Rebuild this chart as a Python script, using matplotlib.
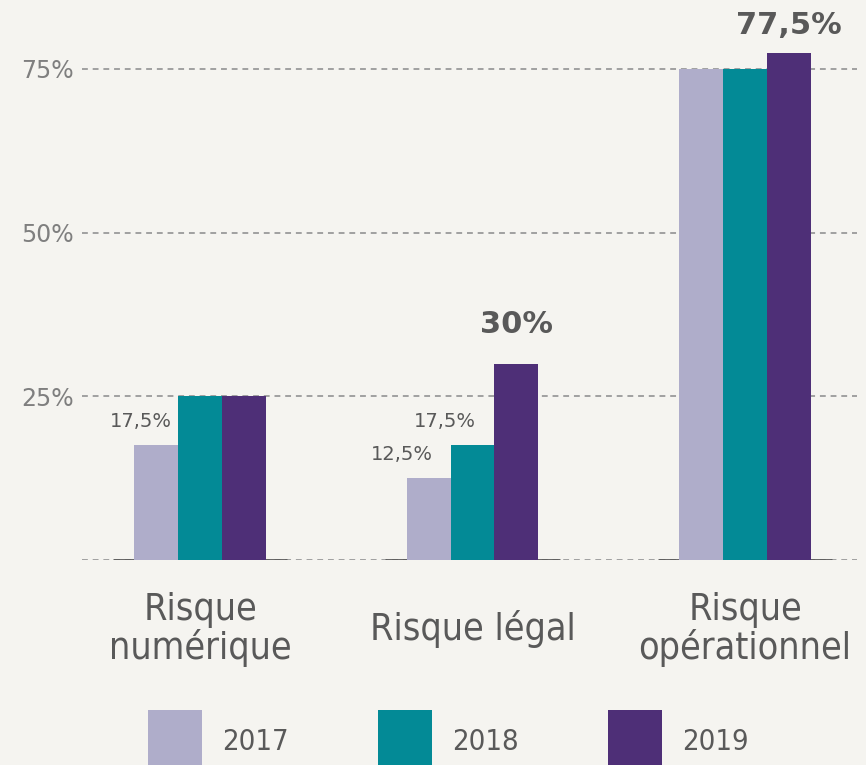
import numpy as np
import matplotlib.pyplot as plt
from matplotlib import font_manager

categories = ['Risque\nnumérique', 'Risque légal', 'Risque\nopérationnel']
years = ['2017', '2018', '2019']
values_2017 = [17.5, 12.5, 75]
values_2018 = [25, 17.5, 75]
values_2019 = [25, 30, 77.5]
colors = ['#afadca', '#038a96', '#4e2f77']

# pick a regular narrow font if one is installed
narrow = None
for f in font_manager.fontManager.ttflist:
    fn = f.fname.split('/')[-1]
    if ('Condensed' in fn or 'Narrow' in fn) and f.style == 'normal' \
            and f.weight in (400, 'normal', 'regular', 'book') \
            and 'Bold' not in fn and 'Oblique' not in fn and 'Italic' not in fn:
        narrow = f.fname
        if 'DejaVuSansCondensed.ttf' in fn:
            break
if narrow is not None:
    cat_prop = font_manager.FontProperties(fname=narrow, size=27)
    leg_prop = font_manager.FontProperties(fname=narrow, size=21)
else:
    cat_prop = font_manager.FontProperties(family='DejaVu Sans', size=25)
    leg_prop = font_manager.FontProperties(family='DejaVu Sans', size=19)

bg = '#f5f4f0'
fig = plt.figure(figsize=(8.66, 7.65), dpi=100, facecolor=bg)
ax = fig.add_axes([0.0947, 0.268, 0.895, 0.6847], facecolor=bg)

x = np.arange(len(categories))
w = 0.161
series = [values_2017, values_2018, values_2019]
for i, (vals, c) in enumerate(zip(series, colors)):
    ax.bar(x + (i - 1) * w, vals, w, color=c, label=years[i], zorder=3)

# grid lines
for yv in [0, 25, 50, 75]:
    ax.axhline(yv, color='#a0a0a0', lw=1.4, ls=(0, (3, 2.5)), zorder=1)
# dark baseline segments under each group
for xc in x:
    ax.plot([xc - 0.32, xc + 0.32], [0, 0], color='#595959', lw=2, zorder=2,
            solid_capstyle='butt')

ax.set_xlim(-0.433, 2.411)
ax.set_ylim(0, 80)
ax.set_yticks([25, 50, 75])
ax.set_yticklabels(['25%', '50%', '75%'], color='#7f7f7f', fontsize=17)
ax.tick_params(axis='y', length=0, pad=6)
ax.set_xticks(x)
ax.set_xticklabels(categories, color='#595959', linespacing=1.05,
                   fontproperties=cat_prop)
for lbl in ax.get_xticklabels():
    lbl.set_va('center')
ax.tick_params(axis='x', length=0, pad=50)
for s in ax.spines.values():
    s.set_visible(False)

# small value labels (series index, category index, x shift)
small = [(0, 0, -0.055), (0, 1, -0.1), (1, 1, -0.1)]
for i, j, dx in small:
    v = series[i][j]
    ax.text(x[j] + (i - 1) * w + dx, v + 3.6, f'{v:g}%'.replace('.', ','),
            ha='center', va='center', fontsize=14, color='#595959')
# bold highlights
for j in [1, 2]:
    v = values_2019[j]
    ax.text(x[j] + w, v + (6 if j == 1 else 4.2), f'{v:g}%'.replace('.', ','),
            ha='center', va='center', fontsize=22, fontweight='bold',
            color='#595959', clip_on=False)

leg = fig.legend(ncol=3, loc='upper left', bbox_to_anchor=(0.171, 0.072),
                 frameon=False, prop=leg_prop, handlelength=1.85, handleheight=2.9,
                 handletextpad=0.7, columnspacing=3.05, borderpad=0, borderaxespad=0)
for t in leg.get_texts():
    t.set_color('#595959')

fig.savefig('out.png', dpi=100, facecolor=bg)
